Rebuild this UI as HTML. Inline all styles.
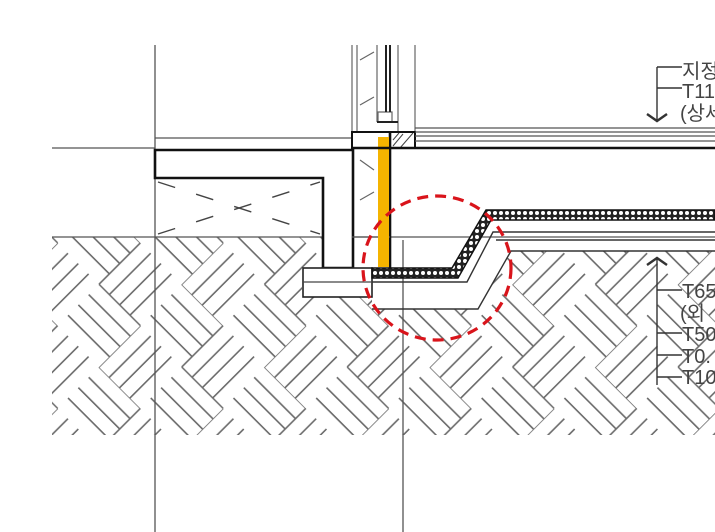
<!DOCTYPE html>
<html><head><meta charset="utf-8"><style>
html,body{margin:0;padding:0;background:#fff;}
svg{display:block;}
text{font-family:"Liberation Sans","Noto Sans CJK KR",sans-serif;fill:#444;font-size:20px;}
</style></head><body>
<svg width="715" height="532" viewBox="0 0 715 532" xmlns="http://www.w3.org/2000/svg">
<defs>
<pattern id="bw" width="117" height="117" patternUnits="userSpaceOnUse" patternTransform="translate(99 367) rotate(45)">
<g stroke="#6a6a6a" stroke-width="1.6" fill="none">
<path d="M0 0H58.5M0 14.6H58.5M0 29.2H58.5M0 43.8H58.5"/>
<path d="M58.5 58.5H117M58.5 73.1H117M58.5 87.7H117M58.5 102.3H117"/>
<path d="M58.5 0V58.5M73.1 0V58.5M87.7 0V58.5M102.3 0V58.5"/>
<path d="M0 58.5V117M14.6 58.5V117M29.2 58.5V117M43.8 58.5V117"/>
</g>
</pattern>
<pattern id="dots" width="6" height="6" patternUnits="userSpaceOnUse">
<rect width="6" height="6" fill="#222"/>
<circle cx="3" cy="3" r="2" fill="#fff"/>
</pattern>
<clipPath id="soil">
<path d="M52 237H323V268H302V297H372V309H478L511 251H715V435H52Z"/>
</clipPath>
</defs>

<rect x="0" y="0" width="715" height="532" fill="url(#bw)" clip-path="url(#soil)"/>

<g stroke="#555" stroke-width="1.3" fill="none">
<line x1="155" y1="45" x2="155" y2="532"/>
<line x1="403" y1="240" x2="403" y2="532"/>
<line x1="52" y1="148" x2="155" y2="148"/>
<line x1="52" y1="237" x2="715" y2="237"/>
<line x1="155" y1="138" x2="352" y2="138"/>
</g>

<g stroke="#666" stroke-width="1.2" fill="none">
<line x1="352" y1="45" x2="352" y2="132"/>
<line x1="357" y1="45" x2="357" y2="132"/>
<line x1="377" y1="45" x2="377" y2="122"/>
<line x1="398" y1="45" x2="398" y2="132"/>
<line x1="415" y1="45" x2="415" y2="132"/>
<path d="M360 60l14-8M360 105l14-8M360 160l14 10M360 200l14-8"/>
<path d="M378 122V112H392V122" />
</g>
<g stroke="#222" stroke-width="2" fill="none">
<line x1="386" y1="45" x2="386" y2="112"/>
<line x1="390" y1="45" x2="390" y2="112"/>
<line x1="377" y1="122" x2="398" y2="122"/>
</g>
<rect x="352" y="132" width="63" height="16" fill="none" stroke="#111" stroke-width="2"/>
<g stroke="#444" stroke-width="1"><path d="M393 146l10-12M400 148l13-15M393 140l6-7"/></g>

<path d="M155 150H353V268H323V178H155Z" fill="#fff" stroke="#111" stroke-width="2.6"/>
<line x1="390" y1="132" x2="390" y2="268" stroke="#111" stroke-width="2.6"/>
<line x1="352" y1="237" x2="390" y2="237" stroke="#555" stroke-width="1.2"/>
<g stroke="#444" stroke-width="1.4" stroke-dasharray="18 22">
<line x1="158" y1="182" x2="320" y2="234"/>
<line x1="158" y1="234" x2="320" y2="182"/>
</g>
<rect x="378" y="137" width="11" height="130" fill="#f5b400"/>

<rect x="303" y="268" width="69" height="29" fill="#fff" stroke="#222" stroke-width="1.6"/>
<line x1="303" y1="282" x2="372" y2="282" stroke="#444" stroke-width="1.2"/>

<g stroke="#555" stroke-width="1.2">
<line x1="415" y1="128" x2="715" y2="128"/>
<line x1="415" y1="132" x2="715" y2="132"/>
<line x1="415" y1="136" x2="715" y2="136"/>
<line x1="415" y1="141" x2="715" y2="141"/>
</g>
<line x1="352" y1="148" x2="715" y2="148" stroke="#111" stroke-width="2.6"/>

<path d="M372 268H452L486 210H715V220H491L458 278H372Z" fill="url(#dots)" stroke="#111" stroke-width="1.5"/>
<g stroke="#333" stroke-width="1.4" fill="none">
<path d="M372 282H467L493 232H715"/>
<line x1="496" y1="240" x2="715" y2="240"/>
<path d="M372 309H478L511 251H715"/>
</g>

<ellipse cx="437" cy="268" rx="74" ry="72" fill="none" stroke="#d9141b" stroke-width="3.2" stroke-dasharray="11 7"/>

<g stroke="#333" stroke-width="1.4" fill="none">
<path d="M657 67V120M657 67H682M657 88H682"/>
<path d="M647 114L657 121L667 114" stroke-width="2.4"/>
<path d="M657 258V385M657 290H682M657 333H682M657 355H682M657 377H682"/>
<path d="M647 265L657 258L667 265" stroke-width="2.4"/>
</g>
<text x="682" y="78">지정</text>
<text x="682" y="98">T11</text>
<text x="680" y="120">(상세</text>
<text x="682" y="298">T65</text>
<text x="680" y="320">(외</text>
<text x="682" y="341">T50</text>
<text x="682" y="363">T0.</text>
<text x="682" y="384">T10</text>
</svg>
</body></html>
